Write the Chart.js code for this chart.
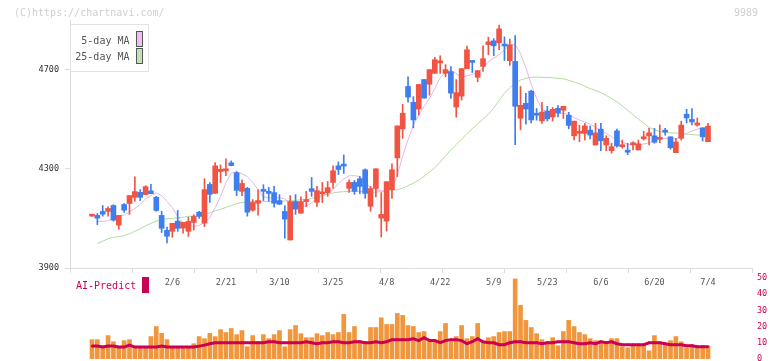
<!DOCTYPE html>
<html><head><meta charset="utf-8">
<script src="https://cdn.jsdelivr.net/npm/chart.js@4/dist/chart.umd.min.js"></script>
<style>
html,body{margin:0;padding:0;background:#fff;}
#wrap{position:relative;width:772px;height:361px;overflow:hidden;font-family:"DejaVu Sans Mono",monospace;}
canvas{position:absolute;left:0;top:0;}
.t{position:absolute;white-space:pre;font-size:10px;line-height:10px;}
</style></head><body>
<div id="wrap">
<canvas id="vol" width="772" height="369"></canvas>
<canvas id="price" width="772" height="361"></canvas>
<div class="t" style="left:14px;top:8px;color:#cfcfcf">(C)https://chartnavi.com/</div>
<div class="t" style="left:734px;top:8px;color:#cfcfcf">9989</div>
<div style="position:absolute;left:70px;top:24px;width:77px;height:46px;border:1px solid #e2e2e2;background:#fff;"></div>
<div class="t" style="left:60px;width:69.5px;text-align:right;top:36px;color:#555">5-day MA</div>
<div class="t" style="left:60px;width:69.5px;text-align:right;top:52px;color:#555">25-day MA</div>
<div style="position:absolute;left:136px;top:31px;width:5px;height:14px;border:1px solid #555;background:#efbfef;"></div>
<div style="position:absolute;left:136px;top:48px;width:5px;height:14px;border:1px solid #555;background:#c2e2b4;"></div>
<div class="t" style="left:76px;top:281px;color:#cc0055">AI-Predict</div>
<div style="position:absolute;left:142px;top:277px;width:7px;height:16px;background:#cc0055;"></div>
</div>
<script>
const dates = ['1/16','1/17','1/20','1/21','1/22','1/23','1/24','1/27','1/28','1/29','1/30','1/31',
'2/3','2/4','2/5','2/6','2/7','2/10','2/12','2/13','2/14','2/17','2/18','2/19','2/20','2/21','2/25','2/26','2/27','2/28',
'3/3','3/4','3/5','3/6','3/7','3/10','3/11','3/12','3/13','3/14','3/17','3/18','3/19','3/21','3/24','3/25','3/26','3/27','3/28','3/31',
'4/1','4/2','4/3','4/4','4/7','4/8','4/9','4/10','4/11','4/14','4/15','4/16','4/17','4/18','4/21','4/22','4/23','4/24','4/25','4/28','4/30',
'5/1','5/2','5/7','5/8','5/9','5/12','5/13','5/14','5/15','5/16','5/19','5/20','5/21','5/22','5/23','5/26','5/27','5/28','5/29','5/30',
'6/2','6/3','6/4','6/5','6/6','6/9','6/10','6/11','6/12','6/13','6/16','6/17','6/18','6/19','6/20','6/23','6/24','6/25','6/26','6/27','6/30',
'7/1','7/2','7/3','7/4'];
const tickLabels = ['2/6','2/21','3/10','3/25','4/8','4/22','5/9','5/23','6/6','6/20','7/4'];
const priceTicks = [3900, 4300, 4700];
const volTicks = [0, 10, 20, 30, 40, 50];

const openP = [4109,4112,4128,4128,4152,4073,4156,4160,4185,4205,
4196,4211,4185,4112,4052,4048,4089,4061,4048,4084,
4125,4081,4237,4201,4289,4292,4324,4284,4209,4221,
4133,4161,4216,4209,4204,4172,4128,4013,4168,4121,
4168,4220,4165,4199,4204,4245,4312,4317,4221,4245,
4260,4296,4149,4221,4101,4089,4216,4344,4461,4632,
4568,4541,4660,4641,4685,4727,4685,4692,4549,4593,
4704,4736,4669,4713,4801,4816,4808,4798,4736,4733,
4504,4564,4613,4518,4493,4533,4509,4544,4536,4516,
4433,4443,4443,4456,4396,4460,4396,4373,4453,4389,
4369,4397,4376,4421,4433,4433,4419,4450,4429,4365,
4423,4520,4499,4476,4465,4409];
const highP = [4113,4120,4152,4147,4155,4112,4160,4192,4268,4216,
4232,4237,4189,4129,4065,4080,4132,4084,4105,4115,
4129,4260,4244,4325,4316,4340,4332,4289,4256,4225,
4176,4216,4236,4225,4229,4196,4152,4192,4196,4187,
4209,4265,4229,4245,4249,4312,4328,4356,4256,4253,
4269,4300,4229,4300,4204,4248,4320,4473,4560,4671,
4591,4640,4660,4700,4749,4756,4720,4712,4660,4704,
4795,4736,4696,4796,4831,4825,4880,4832,4823,4837,
4632,4604,4617,4543,4568,4552,4547,4555,4552,4528,
4492,4476,4483,4472,4483,4483,4433,4403,4460,4416,
4403,4409,4416,4451,4463,4463,4477,4463,4429,4423,
4492,4540,4543,4505,4465,4483];
const lowP = [4109,4075,4109,4109,4089,4056,4124,4116,4169,4172,
4196,4200,4129,4043,4001,4024,4048,4040,4027,4053,
4100,4067,4164,4201,4245,4272,4312,4192,4192,4109,
4129,4113,4172,4169,4145,4156,4020,4013,4116,4121,
4148,4189,4148,4164,4189,4221,4277,4281,4205,4197,
4200,4181,4129,4187,4025,4049,4181,4269,4423,4569,
4465,4517,4585,4597,4685,4685,4671,4584,4508,4577,
4704,4688,4651,4693,4760,4756,4780,4737,4717,4397,
4457,4480,4485,4496,4483,4493,4493,4509,4503,4461,
4416,4409,4416,4420,4396,4373,4373,4363,4387,4383,
4357,4376,4376,4416,4396,4403,4405,4436,4379,4365,
4416,4485,4477,4472,4412,4409];
const closeP = [4112,4101,4117,4140,4093,4112,4133,4192,4208,4185,
4228,4200,4132,4060,4028,4080,4060,4084,4088,4108,
4108,4216,4197,4312,4298,4295,4313,4213,4241,4125,
4164,4172,4209,4201,4161,4157,4097,4168,4137,4168,
4173,4209,4212,4204,4224,4292,4297,4311,4245,4209,
4229,4201,4220,4300,4116,4248,4296,4473,4524,4589,
4497,4640,4585,4700,4740,4730,4700,4605,4607,4704,
4780,4729,4696,4744,4812,4796,4864,4795,4800,4552,
4556,4541,4497,4516,4529,4501,4540,4525,4552,4475,
4492,4446,4473,4436,4445,4413,4423,4389,4392,4392,
4367,4400,4401,4428,4445,4407,4425,4448,4385,4408,
4476,4505,4489,4485,4429,4472];
const ma5 = [null,4087,4088,4091,4104,4111,4113,4128,4140,4156,
4179,4192,4203,4192,4169,4143,4107,4083,4072,4067,
4072,4083,4103,4143,4189,4243,4283,4287,4280,4269,
4245,4216,4187,4183,4183,4183,4179,4156,4149,4147,
4149,4163,4179,4189,4203,4216,4240,4259,4272,4272,
4269,4245,4225,4216,4212,4208,4225,4275,4351,4417,
4477,4517,4551,4584,4624,4667,4688,4697,4684,4668,
4675,4680,4688,4707,4731,4747,4760,4781,4797,4802,
4764,4707,4640,4585,4539,4529,4527,4525,4523,4519,
4507,4496,4489,4480,4467,4453,4443,4429,4416,4407,
4399,4396,4396,4400,4405,4413,4420,4423,4421,4421,
4432,4443,4452,4460,4465,4469];
const ma25 = [null,3999,4008,4018,4024,4027,4030,4038,4048,4058,
4070,4080,4089,4096,4099,4100,4102,4105,4108,4110,
4112,4116,4122,4130,4137,4144,4152,4160,4164,4166,
4168,4168,4168,4168,4168,4169,4170,4172,4173,4175,
4176,4180,4186,4192,4197,4203,4206,4208,4209,4209,
4209,4207,4205,4206,4208,4209,4212,4215,4222,4232,
4242,4254,4270,4287,4304,4327,4352,4377,4398,4420,
4442,4462,4481,4500,4520,4545,4575,4605,4627,4645,
4658,4665,4669,4670,4669,4668,4667,4665,4663,4657,
4650,4643,4633,4623,4616,4607,4596,4583,4570,4553,
4536,4518,4500,4485,4467,4458,4450,4446,4445,4444,
4443,4440,4438,4436,4436,4436];
const volume = [11.9,11.9,8.1,14.4,10.6,7.5,11.3,11.9,7.5,7.5,
7.5,13.8,20,15.8,11.9,7.5,7.5,7.5,7.5,9.4,
13.8,12.5,15.8,13.8,18.1,16.3,18.8,15,17.5,7.5,
14.4,10.6,15,12.5,15,17.5,7.5,18.1,20.6,15.6,
13.1,13.1,15.6,14.4,16.3,15,16.3,27.5,16.3,20,
11.3,10.6,19.4,19.4,25.4,21.3,21.3,28.1,26.9,20.6,
20,16.3,16.9,10.6,11.3,16.9,21.9,10.6,13.8,20.6,
12.5,13.8,21.9,10.6,13.1,13.8,16.3,16.9,16.9,49.4,
33.1,23.8,19.4,15.6,11.9,10.6,13.1,8.1,16.9,23.8,
20,16.3,15,12.5,11.3,11.3,10.6,12.5,12.5,7.5,
6.9,8.1,8.1,8.1,5,14.4,10.6,9.4,11.3,13.8,
10.6,6.9,8.8,7.5,8.1,8.1];
const aiPredict = [7.9,7.9,7.3,7.9,7.9,7.3,7.3,8.5,7.3,7.3,
7.3,7.3,7.3,7.9,7.3,7.3,7.3,7.3,7.3,7.3,
7.9,8.5,9.4,10,10,10,10,10,10,10,
10,10,10,10.6,10.6,10,10,10,10,10,
10.6,10,9.4,10,10,10.6,10.6,10,10,10.6,
10.6,10,10,10.6,10,10.6,11.9,11.9,11.9,11.9,
12.5,11.3,13.1,11.3,11.3,10,11.3,11.9,11.9,11.3,
9.4,10.6,12.5,10.6,10,10,8.8,8.8,10,10.6,
10.6,10,10,10,9.4,10,10,10.6,10.6,10.6,
10,9.4,9.4,10,9.4,10.6,10,10.6,9.4,8.8,
8.8,8.8,8.8,8.8,10,10,10,9.4,8.8,8.8,
8.8,8.1,8.1,7.5,7.5,7.5];

const FONT = {family:'"DejaVu Sans Mono", monospace', size:8.5};
const idx = dates.map((d,i)=>i);
const X_MIN = -4.107, X_MAX = 123.214;
const UP = '#f15443', DOWN = '#3e7eee';
const candleColor = idx.map(i => closeP[i] >= openP[i] ? UP : DOWN);
const labelIdx = tickLabels.map(l => dates.indexOf(l));

new Chart(document.getElementById('price'), {
  type: 'bar',
  data: {
    datasets: [
      {type:'line', label:'5-day MA', data: idx.map(i=>({x:i,y:ma5[i]})), borderColor:'#e9b4e9', borderWidth:1, pointRadius:0, order:3, spanGaps:true},
      {type:'line', label:'25-day MA', data: idx.map(i=>({x:i,y:ma25[i]})), borderColor:'#b3dba3', borderWidth:1, pointRadius:0, order:4, spanGaps:true},
      {label:'wick', data: idx.map(i=>({x:i,y:[lowP[i],highP[i]]})), backgroundColor:candleColor, barThickness:1, grouped:false, order:2},
      {label:'body', data: idx.map(i=>({x:i,y:[openP[i],closeP[i]]})), backgroundColor:candleColor, barThickness:5, minBarLength:2, grouped:false, order:1}
    ]
  },
  options: {
    responsive:false, animation:false, devicePixelRatio:1,
    layout:{padding:{top:20,right:20,left:0,bottom:0}},
    plugins:{legend:{display:false}, tooltip:{enabled:false}},
    scales:{
      x:{type:'linear', min:X_MIN, max:X_MAX, offset:false, position:'bottom', weight:0,
         afterBuildTicks:s=>{s.ticks = Array.from({length:12},(_,k)=>({value:X_MIN+k*(X_MAX-X_MIN)/11}));},
         ticks:{display:false},
         grid:{drawOnChartArea:false, drawTicks:true, tickLength:5, color:'#dcdcdc', offset:false},
         border:{color:'#dcdcdc'},
         afterFit:s=>{s.height=5;}},
      xd:{type:'linear', min:X_MIN, max:X_MAX, offset:false, position:'bottom', weight:1,
         afterBuildTicks:s=>{s.ticks = labelIdx.map(v=>({value:v}));},
         ticks:{autoSkip:false, maxRotation:0, padding:5, color:'#555', font:FONT, callback:v=>dates[v]},
         grid:{display:false, drawTicks:false}, border:{display:false},
         afterFit:s=>{s.height=88;}},
      y:{type:'linear', min:3900, max:4900, position:'left',
         afterBuildTicks:s=>{s.ticks = priceTicks.map(v=>({value:v}));},
         ticks:{padding:6, color:'#333', font:FONT, callback:v=>String(v)},
         grid:{drawOnChartArea:false, tickLength:5, color:'#dcdcdc'},
         border:{color:'#dcdcdc'},
         afterFit:s=>{s.width=70;}}
    }
  }
});

new Chart(document.getElementById('vol'), {
  type: 'bar',
  data: {
    datasets: [
      {type:'line', label:'AI-Predict', data: idx.map(i=>({x:i,y:aiPredict[i]})), borderColor:'#cc0055', borderWidth:3, pointRadius:1.5, pointStyle:'rect', pointBackgroundColor:'#cc0055', pointBorderWidth:0, order:0},
      {label:'volume', data: idx.map(i=>({x:i,y:volume[i]})), backgroundColor:'#f0963c', barThickness:4, order:1}
    ]
  },
  options: {
    responsive:false, animation:false, devicePixelRatio:1,
    layout:{padding:{top:278,left:70,right:0,bottom:3}},
    plugins:{legend:{display:false}, tooltip:{enabled:false}},
    scales:{
      x:{type:'linear', min:X_MIN, max:X_MAX, offset:false, display:false},
      y:{position:'right', min:0, max:50,
         afterBuildTicks:s=>{s.ticks = volTicks.map(v=>({value:v}));},
         ticks:{padding:5, color:'#cc0055', font:FONT},
         grid:{display:false, drawTicks:false}, border:{display:false},
         afterFit:s=>{s.width=20;}}
    }
  }
});
</script>
</body></html>
